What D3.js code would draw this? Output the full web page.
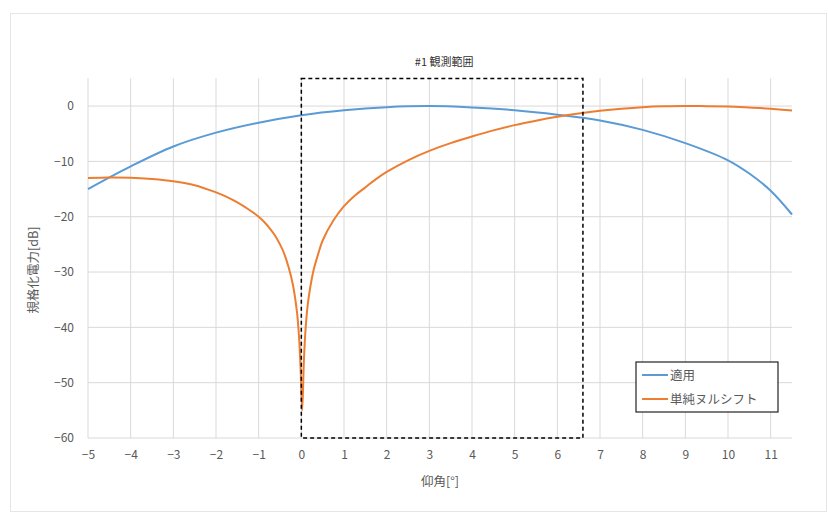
<!DOCTYPE html>
<html><head><meta charset="utf-8">
<script src="https://cdn.jsdelivr.net/npm/d3@7"></script>
<style>
html,body{margin:0;padding:0;background:#fff;}
svg text{font-family:"Noto Sans CJK JP","Noto Sans",sans-serif;}
</style></head>
<body><svg id="chart" width="828" height="513"></svg>
<script>
// ---- data ----
const xTicks = [-5,-4,-3,-2,-1,0,1,2,3,4,5,6,7,8,9,10,11];
const yTicks = [-60,-50,-40,-30,-20,-10,0];
const seriesNames = ["適用", "単純ヌルシフト"];
const seriesColors = ["#5B9BD5", "#ED7D31"];

const blueX = [-5,-4,-3,-2,-1,0,1,2,3,4,5,6,7,8,9,10,10.5,11,11.5];
const blueY = [-15.0,-10.9,-7.3,-4.8,-3.0,-1.65,-0.75,-0.2,0,-0.25,-0.75,-1.55,-2.6,-4.3,-6.7,-9.8,-12.2,-15.3,-19.6];

const orangeX = [-5,-4.5,-4,-3.5,-3,-2.5,-2,-1.75,-1.5,-1.25,-1,-0.875,-0.75,-0.625,-0.5,-0.4,-0.3,-0.2,-0.1,-0.05,-0.02,0.02,0.06,0.1,0.16,0.28,0.4,0.5,0.75,1,1.25,1.5,1.75,2,2.5,3,3.5,4,4.5,5,5.5,6,6.5,7,7.5,8,8.5,9,9.5,10,10.5,11,11.5];
const orangeY = [-13.0,-12.9,-12.95,-13.2,-13.6,-14.3,-15.6,-16.4,-17.4,-18.6,-20.0,-20.9,-22.0,-23.3,-25.0,-26.7,-29.1,-32.2,-37.4,-42.2,-47,-55,-46,-40.2,-35.3,-29.9,-26.6,-24.3,-20.7,-18.1,-16.2,-14.7,-13.2,-11.9,-9.8,-8.1,-6.7,-5.5,-4.4,-3.45,-2.65,-1.95,-1.35,-0.85,-0.47,-0.2,-0.05,0,-0.02,-0.1,-0.25,-0.5,-0.8];

const boxX = [0, 6.6];
const boxY = [-60, 5];
const boxLabel = "#1 観測範囲";
const xTitle = "仰角[°]";
const yTitle = "規格化電力[dB]";

// ---- drawing ----
const svg = d3.select("#chart");
svg.append("rect").attr("width",828).attr("height",513).attr("fill","#fff");
svg.append("rect").attr("x",10.5).attr("y",13.5).attr("width",816).attr("height",498)
  .attr("fill","none").attr("stroke","#e6e6e6");

const x = d3.scaleLinear().domain([-5, 11.5]).range([88, 792]);
const y = d3.scaleLinear().domain([-60, 5]).range([438, 78.4]);

// gridlines
const g = svg.append("g");
g.selectAll(".vg").data(xTicks).join("line")
  .attr("x1",d=>x(d)).attr("x2",d=>x(d)).attr("y1",y(5)).attr("y2",y(-60))
  .attr("stroke","#d9d9d9").attr("stroke-width",1);
g.selectAll(".hg").data(yTicks).join("line")
  .attr("x1",x(-5)).attr("x2",x(11.5)).attr("y1",d=>y(d)).attr("y2",d=>y(d))
  .attr("stroke","#d9d9d9").attr("stroke-width",1);

// axes (labels only)
const xAxis = d3.axisBottom(x).tickValues(xTicks).tickSize(0).tickPadding(12).tickFormat(d3.format("d"));
const xg = svg.append("g").attr("transform",`translate(0,${y(-60)})`).call(xAxis);
xg.select(".domain").remove();
xg.selectAll("text").attr("fill","#595959").attr("font-size",12);

const yAxis = d3.axisLeft(y).tickValues(yTicks).tickSize(0).tickPadding(14).tickFormat(d3.format("d"));
const yg = svg.append("g").attr("transform",`translate(${x(-5)},0)`).call(yAxis);
yg.select(".domain").remove();
yg.selectAll("text").attr("fill","#595959").attr("font-size",12);

// series
const line = d3.line().x(d=>x(d[0])).y(d=>y(d[1])).curve(d3.curveCatmullRom.alpha(0.5));
const blue = blueX.map((v,i)=>[v, blueY[i]]);
const orange = orangeX.map((v,i)=>[v, orangeY[i]]);
[blue, orange].forEach((s,i)=>{
  svg.append("path").datum(s).attr("d",line).attr("fill","none")
    .attr("stroke",seriesColors[i]).attr("stroke-width",2).attr("stroke-linejoin","round");
});

// dashed box
svg.append("rect")
  .attr("x",x(boxX[0])).attr("y",y(boxY[1]))
  .attr("width",x(boxX[1])-x(boxX[0])).attr("height",y(boxY[0])-y(boxY[1]))
  .attr("fill","none").attr("stroke","#000").attr("stroke-width",1.5).attr("stroke-dasharray","4,3");
svg.append("text").attr("x",(x(boxX[0])+x(boxX[1]))/2+2).attr("y",y(boxY[1])-12)
  .attr("text-anchor","middle").attr("font-size",11).attr("fill","#333").text(boxLabel);

// axis titles
svg.append("text").attr("x",440).attr("y",486).attr("text-anchor","middle")
  .attr("font-size",12.5).attr("fill","#595959").text(xTitle);
svg.append("text").attr("transform","translate(38,270) rotate(-90)").attr("text-anchor","middle")
  .attr("font-size",12.5).attr("fill","#595959").text(yTitle);

// legend
const lg = svg.append("g").attr("transform","translate(636,362)");
lg.append("rect").attr("width",142).attr("height",50).attr("fill","#fff")
  .attr("stroke","#222").attr("stroke-width",1.2);
seriesNames.forEach((n,i)=>{
  const yy = 13 + i*24;
  lg.append("line").attr("x1",6).attr("x2",32).attr("y1",yy).attr("y2",yy)
    .attr("stroke",seriesColors[i]).attr("stroke-width",2);
  lg.append("text").attr("x",34).attr("y",yy+4.5).attr("font-size",12.5).attr("fill","#595959").text(n);
});
</script></body></html>
